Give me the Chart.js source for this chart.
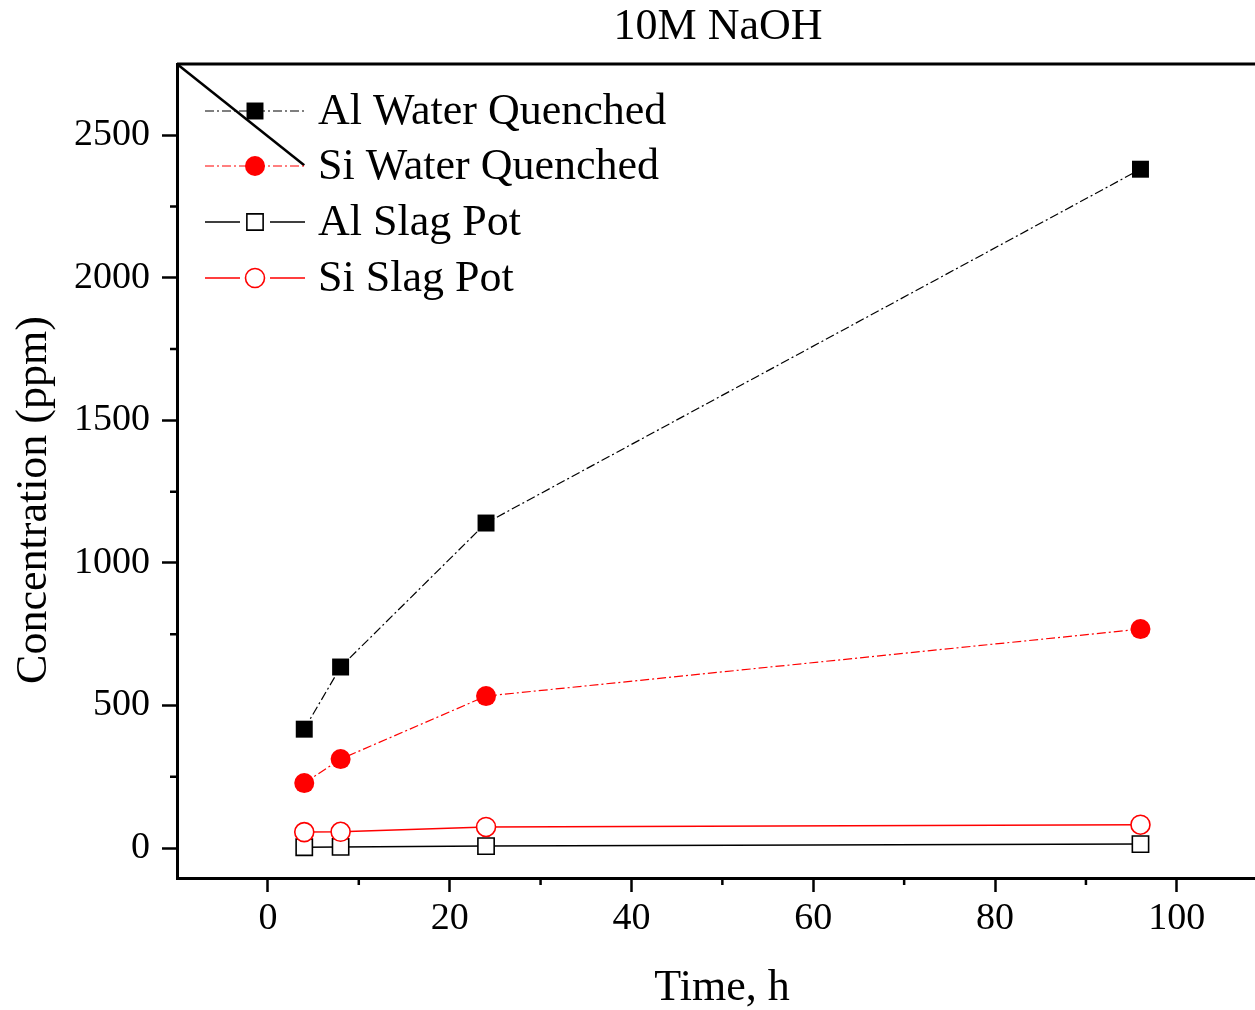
<!DOCTYPE html>
<html>
<head>
<meta charset="utf-8">
<script src="https://cdn.jsdelivr.net/npm/chart.js@4.4.1/dist/chart.umd.min.js"></script>
<style>
  html, body { margin: 0; padding: 0; background: #fff; overflow: hidden; }
  canvas { display: block; }
</style>
</head>
<body>
<canvas id="chart" width="1255" height="1010"></canvas>
<script>
const chartTitle = '10M NaOH';
const xTitle = 'Time, h';
const yTitle = 'Concentration (ppm)';

const times = [4, 8, 24, 96];
const alWater = [417, 635, 1140, 2381];
const siWater = [228, 312, 533, 768];
const alSlag = [3, 4, 7, 14];
const siSlag = [56, 57, 74, 82];

const seriesNames = ['Al Water Quenched', 'Si Water Quenched', 'Al Slag Pot', 'Si Slag Pot'];

const xTicks = [0, 20, 40, 60, 80, 100];
const yTicks = [0, 500, 1000, 1500, 2000, 2500];

const FONT = "'Liberation Serif', 'Times New Roman', serif";
const dashDot = [9, 3, 2, 3];

function pts(ys) {
    return times.map((t, i) => ({ x: t, y: ys[i] }));
}

const datasets = [
    {
        label: seriesNames[0],
        data: pts(alWater),
        borderColor: '#000000',
        backgroundColor: '#000000',
        borderWidth: 1.2,
        borderDash: dashDot,
        pointStyle: 'rect',
        pointRadius: 12,
        pointBorderWidth: 0,
        order: 3
    },
    {
        label: seriesNames[1],
        data: pts(siWater),
        borderColor: '#ff0000',
        backgroundColor: '#ff0000',
        borderWidth: 1.2,
        borderDash: dashDot,
        pointStyle: 'circle',
        pointRadius: 10,
        pointBorderWidth: 0,
        order: 2
    },
    {
        label: seriesNames[2],
        data: pts(alSlag),
        borderColor: '#000000',
        backgroundColor: '#ffffff',
        borderWidth: 1.5,
        pointStyle: 'rect',
        pointRadius: 11.5,
        pointBorderWidth: 1.6,
        order: 1
    },
    {
        label: seriesNames[3],
        data: pts(siSlag),
        borderColor: '#ff0000',
        backgroundColor: '#ffffff',
        borderWidth: 1.5,
        pointStyle: 'circle',
        pointRadius: 9.5,
        pointBorderWidth: 1.6,
        order: 0
    }
];

// titles, legend, minor ticks, top frame line
const extras = {
    id: 'extras',
    afterDraw(chart) {
        const ctx = chart.ctx;
        const area = chart.chartArea;
        const xs = chart.scales.x;
        const ys = chart.scales.y;
        ctx.save();

        // top frame line
        ctx.strokeStyle = '#000';
        ctx.lineWidth = 3;
        ctx.beginPath();
        ctx.moveTo(area.left, area.top);
        ctx.lineTo(area.right, area.top);
        ctx.stroke();

        // stray diagonal stroke in the original figure
        ctx.lineWidth = 2.5;
        ctx.beginPath();
        ctx.moveTo(area.left, area.top);
        ctx.lineTo(xs.getPixelForValue(4), ys.getPixelForValue(2395));
        ctx.stroke();

        // minor ticks
        ctx.lineWidth = 2.5;
        ctx.beginPath();
        for (let v = 250; v < ys.max; v += 500) {
            const py = ys.getPixelForValue(v);
            ctx.moveTo(area.left - 7, py);
            ctx.lineTo(area.left, py);
        }
        for (let v = 10; v < xs.max; v += 20) {
            const px = xs.getPixelForValue(v);
            ctx.moveTo(px, area.bottom);
            ctx.lineTo(px, area.bottom + 7);
        }
        ctx.stroke();

        // titles
        ctx.fillStyle = '#000';
        ctx.font = '44px ' + FONT;
        ctx.textAlign = 'center';
        ctx.textBaseline = 'middle';
        ctx.fillText(chartTitle, (area.left + area.right) / 2 + 2, 27);
        ctx.fillText(xTitle, (area.left + area.right) / 2 + 6, 988);
        ctx.save();
        ctx.translate(34, 500);
        ctx.rotate(-Math.PI / 2);
        ctx.fillText(yTitle, 0, 0);
        ctx.restore();

        // legend
        const rowY = [111, 166, 222, 278];
        chart.data.datasets.forEach((ds, i) => {
            const y = rowY[i];
            const x0 = 205, x1 = 305, mx = 255;
            ctx.strokeStyle = ds.borderColor;
            ctx.lineWidth = ds.borderWidth;
            ctx.setLineDash(ds.borderDash || []);
            ctx.beginPath();
            if (ds.borderDash) {
                ctx.moveTo(x0, y);
                ctx.lineTo(x1, y);
            } else {
                ctx.moveTo(x0, y);
                ctx.lineTo(mx - 15, y);
                ctx.moveTo(mx + 15, y);
                ctx.lineTo(x1, y);
            }
            ctx.stroke();
            ctx.setLineDash([]);
            ctx.fillStyle = ds.backgroundColor;
            ctx.strokeStyle = ds.borderColor;
            ctx.lineWidth = ds.pointBorderWidth;
            Chart.helpers.drawPoint(ctx, {
                pointStyle: ds.pointStyle,
                radius: ds.pointRadius,
                rotation: 0,
                borderWidth: ds.pointBorderWidth
            }, mx, y);
            ctx.fillStyle = '#000';
            ctx.font = '44px ' + FONT;
            ctx.textAlign = 'left';
            ctx.textBaseline = 'middle';
            ctx.fillText(ds.label, 318, y + 1);
        });

        ctx.restore();
    }
};

const ctx = document.getElementById('chart').getContext('2d');
const chart = new Chart(ctx, {
    type: 'line',
    data: { datasets: datasets },
    options: {
        responsive: false,
        devicePixelRatio: 1,
        animation: false,
        layout: {
            autoPadding: false,
            padding: { top: 64, right: 0, left: 0, bottom: 0 }
        },
        elements: { line: { tension: 0 } },
        scales: {
            x: {
                type: 'linear',
                min: -10,
                max: 108.6,
                afterBuildTicks: (scale) => {
                    scale.ticks = xTicks.map(v => ({ value: v }));
                },
                afterFit: (scale) => {
                    scale.height = 132;
                    scale.paddingLeft = 0;
                    scale.paddingRight = 0;
                },
                grid: {
                    drawOnChartArea: false,
                    tickLength: 14,
                    tickWidth: 2.5,
                    tickColor: '#000'
                },
                border: { color: '#000', width: 3 },
                ticks: {
                    color: '#000',
                    font: { family: FONT, size: 38 },
                    padding: 4,
                    maxRotation: 0,
                    callback: (v) => String(v)
                }
            },
            y: {
                type: 'linear',
                min: -105,
                max: 2750,
                afterBuildTicks: (scale) => {
                    scale.ticks = yTicks.map(v => ({ value: v }));
                },
                afterFit: (scale) => {
                    scale.width = 177;
                    scale.paddingTop = 0;
                    scale.paddingBottom = 0;
                },
                grid: {
                    drawOnChartArea: false,
                    tickLength: 15,
                    tickWidth: 2.5,
                    tickColor: '#000'
                },
                border: { color: '#000', width: 3 },
                ticks: {
                    color: '#000',
                    font: { family: FONT, size: 38 },
                    padding: 12,
                    callback: (v) => String(v)
                }
            }
        },
        plugins: {
            legend: { display: false },
            title: { display: false },
            tooltip: { enabled: false }
        }
    },
    plugins: [extras]
});
</script>
</body>
</html>
